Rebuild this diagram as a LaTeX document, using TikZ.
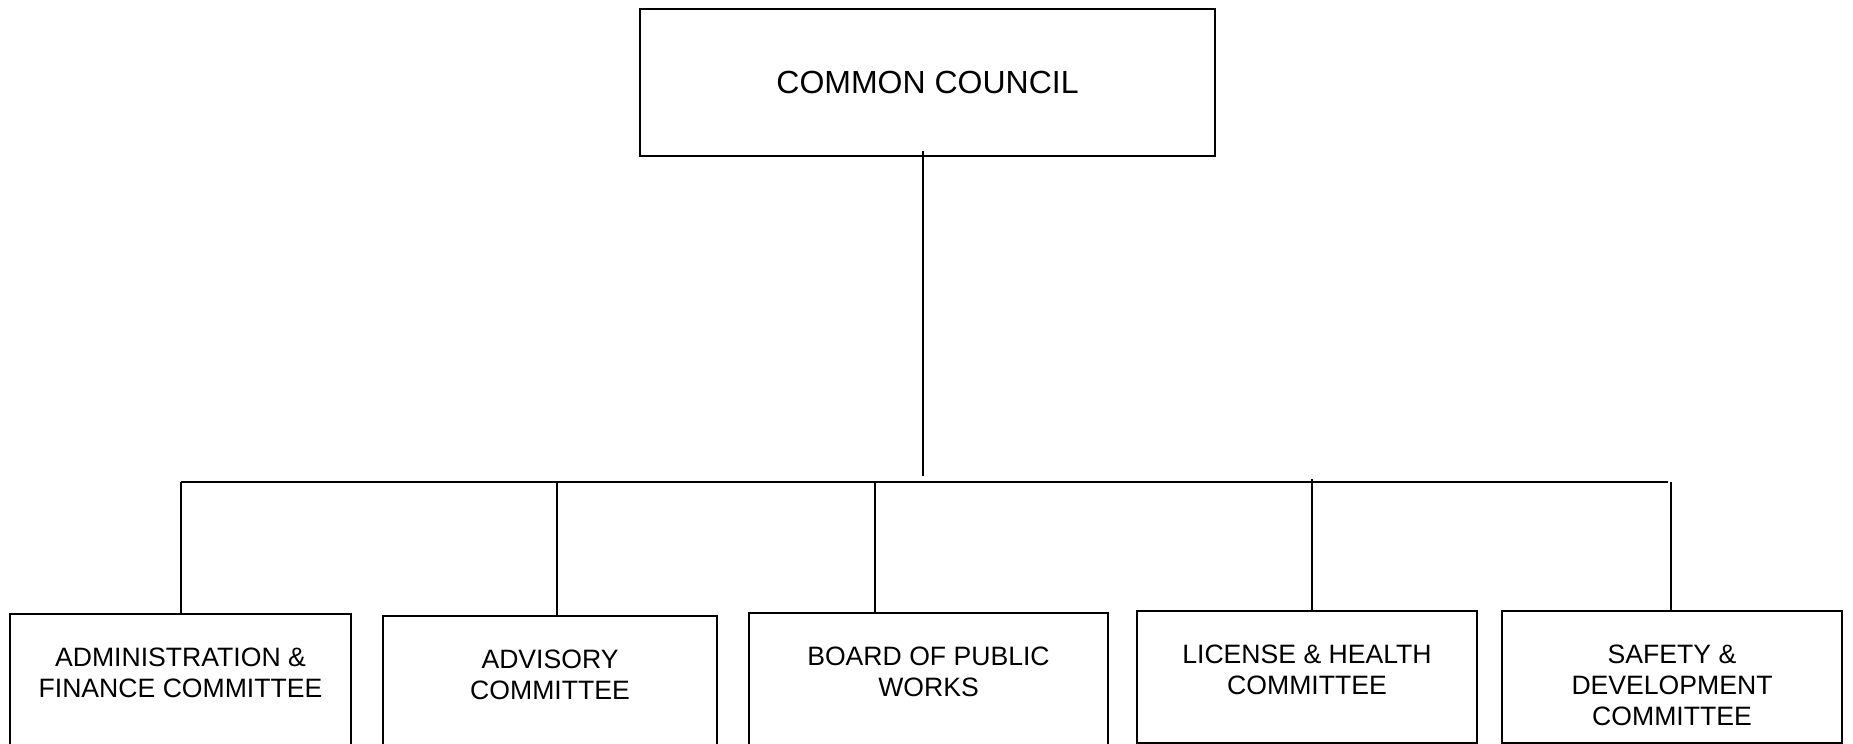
\documentclass[tikz,border=0pt]{standalone}
\usepackage{fontspec}
\setmainfont{Liberation Sans}
\usetikzlibrary{positioning}
\begin{document}
\begin{tikzpicture}[x=0.5pt,y=-0.5pt,line width=1pt,
  box/.style={draw,rectangle,inner sep=0pt,anchor=north west},
  toptext/.style={font=\fontsize{16}{19}\selectfont},
  lowtext/.style={font=\fontsize{13.3}{15.4}\selectfont,align=center,inner sep=0pt,anchor=north}]
\useasboundingbox (0,0) rectangle (1853,744);
\clip (0,0) rectangle (1853,744);
% top box
\node[box,minimum width=287.5pt,minimum height=73.5pt] (cc) at (639,8) {};
\node[toptext] (cct) at (cc.center) {COMMON COUNCIL};
% bottom boxes
\node[box,minimum width=170.5pt,minimum height=95pt] (b1) at (9,613) {};
\node[box,minimum width=167pt,minimum height=95pt] (b2) at (382,615) {};
\node[box,minimum width=179.5pt,minimum height=95pt] (b3) at (748,612) {};
\node[box,minimum width=170pt,minimum height=66pt] (b4) at (1136,610) {};
\node[box,minimum width=170pt,minimum height=66pt] (b5) at (1501,610) {};
\node[lowtext,below=17pt of b1.north] (t1) {ADMINISTRATION \&\\FINANCE COMMITTEE};
\node[lowtext,below=17pt of b2.north] (t2) {ADVISORY\\COMMITTEE};
\node[lowtext,below=17pt of b3.north] (t3) {BOARD OF PUBLIC\\WORKS};
\node[lowtext,below=17pt of b4.north] (t4) {LICENSE \& HEALTH\\COMMITTEE};
\node[lowtext,below=17pt of b5.north] (t5) {SAFETY \&\\DEVELOPMENT\\COMMITTEE};
% connectors
\coordinate (cd) at (923,151);
\coordinate (barL) at (181,482);
\coordinate (barR) at (1668,482);
\coordinate (d1) at (181,482);
\coordinate (d2) at (557,482);
\coordinate (d3) at (875,482);
\coordinate (d4) at (1312,479);
\coordinate (d5) at (1671,482);
\draw (barL) -- (barR);
\draw (cd) -- ([yshift=3pt]cd |- barL);
\draw (d1) -- (d1 |- b1.north);
\draw (d2) -- (d2 |- b2.north);
\draw (d3) -- (d3 |- b3.north);
\draw (d4) -- (d4 |- b4.north);
\draw (d5) -- (d5 |- b5.north);
\end{tikzpicture}
\end{document}
